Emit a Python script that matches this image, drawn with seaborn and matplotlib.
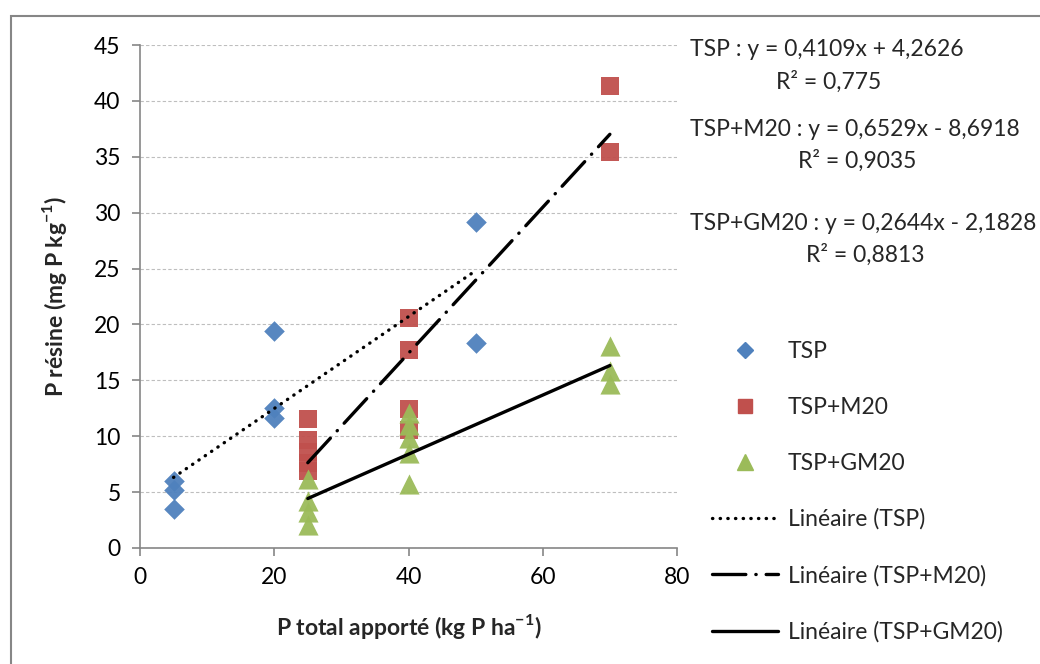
import matplotlib
matplotlib.use("Agg")
import matplotlib.pyplot as plt
from matplotlib.lines import Line2D
from matplotlib.patches import Rectangle
import numpy as np
import pandas as pd
import seaborn as sns


# --- data ---
tsp_x = [5, 5, 5, 20, 20, 20, 50, 50]
tsp_y = [6.0, 5.2, 3.5, 19.4, 12.5, 11.6, 29.2, 18.3]

m20_x = [25, 25, 25, 25, 25, 40, 40, 40, 40, 70, 70]
m20_y = [11.5, 9.7, 8.6, 7.6, 6.9, 20.6, 17.7, 12.4, 10.6, 41.3, 35.4]

gm20_x = [25, 25, 25, 25, 40, 40, 40, 40, 40, 70, 70, 70]
gm20_y = [6.2, 4.2, 3.2, 2.1, 12.1, 11.0, 9.8, 8.5, 5.7, 18.1, 15.8, 14.7]

series_names = ["TSP", "TSP+M20", "TSP+GM20"]
slopes = [0.4109, 0.6529, 0.2644]
intercepts = [4.2626, -8.6918, -2.1828]
r2_values = ["0,775", "0,9035", "0,8813"]
equation_texts = [
    "TSP : y = 0,4109x + 4,2626",
    "TSP+M20 : y = 0,6529x - 8,6918",
    "TSP+GM20 : y = 0,2644x - 2,1828",
]

x_ticks = [0, 20, 40, 60, 80]
y_ticks = [0, 5, 10, 15, 20, 25, 30, 35, 40, 45]

COLORS = {"TSP": "#4F81BD", "TSP+M20": "#C0504D", "TSP+GM20": "#9BBB59"}
MARKERS = {"TSP": "D", "TSP+M20": "s", "TSP+GM20": "^"}
SIZES = {"TSP": 110, "TSP+M20": 175, "TSP+GM20": 210}
LINESTYLES = {
    "TSP": (0, (0.1, 2.2)),
    "TSP+M20": (0, (10, 3, 0.1, 3)),
    "TSP+GM20": "-",
}
FS = 16.5


def main() -> None:
    sns.set_theme(style="white")
    plt.rcParams["font.family"] = ["Lato", "DejaVu Sans"]
    plt.rcParams["mathtext.fontset"] = "custom"
    plt.rcParams["mathtext.rm"] = "Lato"
    plt.rcParams["mathtext.bf"] = "Lato:bold"

    df = pd.concat(
        [
            pd.DataFrame({"x": tsp_x, "y": tsp_y, "serie": "TSP"}),
            pd.DataFrame({"x": m20_x, "y": m20_y, "serie": "TSP+M20"}),
            pd.DataFrame({"x": gm20_x, "y": gm20_y, "serie": "TSP+GM20"}),
        ],
        ignore_index=True,
    )

    fig = plt.figure(figsize=(10.4, 6.64), dpi=100)
    ax = fig.add_axes([140 / 1040, 1 - 548 / 664, 537 / 1040, 503 / 664])

    for name in series_names:
        sub = df[df["serie"] == name]
        sns.scatterplot(
            data=sub, x="x", y="y", ax=ax, color=COLORS[name], marker=MARKERS[name],
            s=SIZES[name], linewidth=0, alpha=0.95, legend=False, zorder=3,
        )

    # trend lines from the printed equations, over each series' x range
    for name, a, b in zip(series_names, slopes, intercepts):
        sub = df[df["serie"] == name]
        xs = np.array([sub["x"].min(), sub["x"].max()])
        line_df = pd.DataFrame({"x": xs, "y": a * xs + b})
        sns.lineplot(data=line_df, x="x", y="y", ax=ax, color="black", lw=2.4,
                     linestyle=LINESTYLES[name], legend=False, zorder=4)
    for ln in ax.lines:
        ln.set_dash_capstyle("round")

    ax.set_xlim(0, 80)
    ax.set_ylim(0, 45)
    ax.set_xticks(x_ticks)
    ax.set_yticks(y_ticks)
    ax.tick_params(axis="both", labelsize=FS, colors="#868686", labelcolor="black",
                   length=6, width=1.2, direction="out", pad=8)
    ax.tick_params(axis="x", bottom=True)
    ax.tick_params(axis="y", left=True)
    ax.yaxis.grid(True, color="#BEBEBE", linestyle=(0, (3, 2)), lw=0.8)
    ax.xaxis.grid(False)
    for side in ["top", "right"]:
        ax.spines[side].set_visible(False)
    for side in ["left", "bottom"]:
        ax.spines[side].set_color("#868686")
        ax.spines[side].set_linewidth(1.2)

    ax.set_xlabel(r"P total apporté (kg P ha$^{\mathbf{-1}}$)", fontsize=16.5,
                  fontweight="bold", labelpad=17)
    ax.set_ylabel(r"P résine (mg P kg$^{\mathbf{-1}}$)", fontsize=16.5,
                  fontweight="bold", labelpad=18)

    # equations and R²
    eq_y = [50, 130, 223]
    r2_pos = [(776, 82), (798, 161), (806, 255)]
    for text, yy, (rx, ry), r2 in zip(equation_texts, eq_y, r2_pos, r2_values):
        fig.text(690 / 1040, 1 - yy / 664, text, fontsize=FS, va="center", ha="left")
        fig.text(rx / 1040, 1 - ry / 664, f"R² = {r2}", fontsize=FS, va="center", ha="left")

    handles = [
        Line2D([], [], linestyle="none", marker=MARKERS[n], color=COLORS[n],
               markersize=np.sqrt(SIZES[n]) * (0.75 if n == "TSP" else 0.8))
        for n in series_names
    ]
    handles += [
        Line2D([], [], color="black", lw=2.4, linestyle=LINESTYLES[n],
               dash_capstyle="round")
        for n in series_names
    ]
    labels = series_names + [f"Linéaire ({n})" for n in series_names]
    fig.legend(handles, labels, loc="upper left",
               bbox_to_anchor=(712 / 1040, 1 - 341 / 664), frameon=False,
               fontsize=FS, labelspacing=1.52, handlelength=2.9,
               handletextpad=0.4, borderpad=0, borderaxespad=0)

    # outer chart-area border
    fig.patches.append(Rectangle((11 / 1040, -0.1), 2, 1 - 16 / 664 + 0.1,
                                 transform=fig.transFigure, fill=False,
                                 edgecolor="#868686", lw=1.5))

    fig.savefig("out.png", dpi=100)
    plt.close(fig)


if __name__ == "__main__":
    main()
